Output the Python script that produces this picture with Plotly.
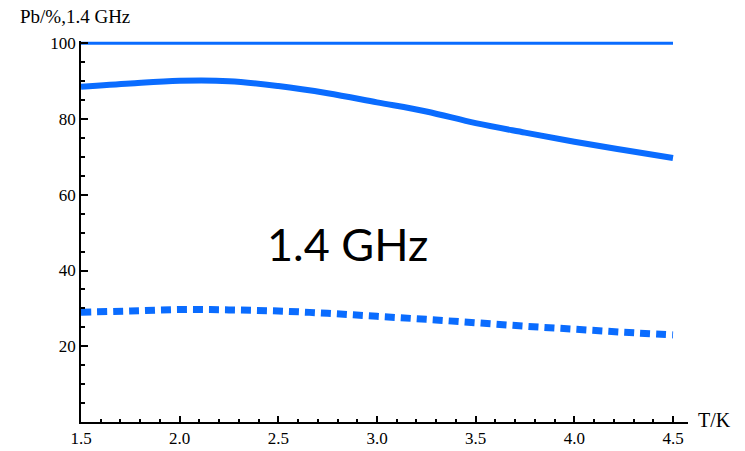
import plotly.graph_objects as go

T = [1.5, 1.75, 2.0, 2.25, 2.5, 2.75, 3.0, 3.25, 3.5, 3.75, 4.0, 4.25, 4.5]
top_line = [100] * len(T)
upper = [88.5, 89.4, 90.1, 90.0, 88.7, 86.8, 84.4, 82.0, 78.9, 76.4, 74.0, 71.8, 69.7]
lower = [29.0, 29.3, 29.7, 29.6, 29.3, 28.7, 27.9, 27.1, 26.2, 25.3, 24.5, 23.7, 23.0]

x_ticks = [1.5, 2.0, 2.5, 3.0, 3.5, 4.0, 4.5]
x_labels = ["1.5", "2.0", "2.5", "3.0", "3.5", "4.0", "4.5"]
y_ticks = [20, 40, 60, 80, 100]
y_labels = ["20", "40", "60", "80", "100"]

blue = "#0a6cff"

fig = go.Figure()
fig.add_trace(go.Scatter(x=T, y=top_line, mode="lines",
                         line=dict(color=blue, width=3)))
fig.add_trace(go.Scatter(x=T, y=upper, mode="lines",
                         line=dict(color=blue, width=6, shape="spline")))
fig.add_trace(go.Scatter(x=T, y=lower, mode="lines",
                         line=dict(color=blue, width=7, shape="spline", dash="10px,6px")))

tick_font = dict(family="Liberation Serif", size=17, color="black")

fig.update_layout(
    width=745, height=451,
    margin=dict(l=81, r=57, t=41, b=29, autoexpand=False),
    paper_bgcolor="white", plot_bgcolor="white",
    showlegend=False,
    xaxis=dict(range=[1.5, 4.576], showgrid=False, zeroline=False, automargin=False,
               showline=True, linecolor="black", linewidth=1.5,
               tickvals=x_ticks, ticktext=x_labels, ticks="inside",
               ticklen=6, tickwidth=1.5, tickcolor="black", tickfont=tick_font,
               minor=dict(dtick=0.1, tick0=1.5, ticks="inside", ticklen=3.5,
                          tickwidth=1.5, tickcolor="black")),
    yaxis=dict(range=[0, 100.6], showgrid=False, zeroline=False, automargin=False,
               showline=True, linecolor="black", linewidth=1.5,
               tickvals=y_ticks, ticktext=y_labels, ticks="inside",
               ticklen=7, tickwidth=1.5, tickcolor="black", tickfont=tick_font,
               minor=dict(dtick=5, tick0=0, ticks="inside", ticklen=4,
                          tickwidth=1.5, tickcolor="black")),
    annotations=[
        dict(text="Pb/%,1.4 GHz", xref="paper", yref="paper", x=0, y=1.0,
             xanchor="left", yanchor="bottom", showarrow=False,
             font=dict(family="Liberation Serif", size=19, color="black"),
             xshift=-63, yshift=12),
        dict(text="T/K", xref="paper", yref="paper", x=1.0, y=0.0,
             xanchor="left", yanchor="middle", showarrow=False,
             font=dict(family="Liberation Serif", size=20, color="black"),
             xshift=8, yshift=2),
        dict(text="1.4 GHz", x=2.85, y=47.0, xref="x", yref="y",
             showarrow=False, font=dict(family="Lato", size=45, color="black")),
    ],
)

fig.write_html("out.html")
